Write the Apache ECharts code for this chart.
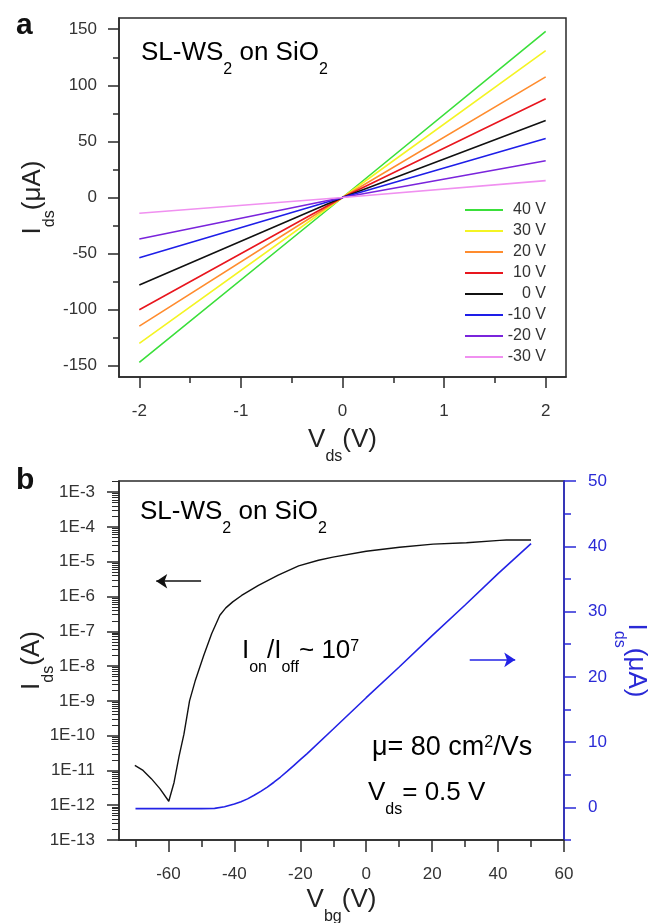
<!DOCTYPE html>
<html><head><meta charset="utf-8">
<script src="https://cdn.jsdelivr.net/npm/echarts@6.0.0/dist/echarts.min.js"></script>
<style>html,body{margin:0;padding:0;background:#fff}#c{width:652px;height:923px}</style>
</head><body><div id="c"></div>
<script>
const FONT = "'Liberation Sans', Arial, sans-serif";

// ---------- Panel a data ----------
const gateLabels = ['40 V', '30 V', '20 V', '10 V', '0 V', '-10 V', '-20 V', '-30 V'];
const gateColors = ['#3adf3a', '#f4f424', '#ff8c2e', '#e8161e', '#111111', '#1e1ee8', '#7a24dc', '#f090f0'];
const vdsPoints = [-2, 0, 2];
const idsAtNeg2 = [-147, -130, -114.6, -100, -78, -53.7, -37, -14];
const idsAtZero = [0, 0, 0, 0, 0, 0, 0, 0];
const idsAtPos2 = [148, 131, 107.5, 88, 68.7, 52.5, 32.8, 15];
const aXTicks = [-2, -1, 0, 1, 2];
const aXMinor = [-1.5, -0.5, 0.5, 1.5];
const aYTicks = [-150, -100, -50, 0, 50, 100, 150];
const aYMinor = [-125, -75, -25, 25, 75, 125];

// ---------- Panel b data ----------
const blackVbg = [-70.2, -67.7, -65.2, -62.6, -59.9, -58.3, -56.8, -55.3, -53.6, -51.8, -49.3, -46.9, -44.4, -42.6, -40.5, -37.8, -32.7, -26.7, -20.5, -14.5, -10.1, 0, 10.1, 20.3, 30.4, 40.5, 42.5, 50];
const blackIds = [1.4e-11, 1.0e-11, 5.8e-12, 3.0e-12, 1.3e-12, 4.5e-12, 2.5e-11, 1.1e-10, 1.0e-9, 4.0e-9, 2.0e-8, 8.5e-8, 2.9e-7, 4.7e-7, 7.0e-7, 1.07e-6, 2.1e-6, 4.1e-6, 7.6e-6, 1.1e-5, 1.35e-5, 2.0e-5, 2.6e-5, 3.2e-5, 3.5e-5, 4.1e-5, 4.2e-5, 4.2e-5];
const blueVbg = [-70, -60, -50, -46, -43, -40, -38, -36, -34, -32, -30, -28, -26, -24, -22, -20, -18, -10, 0, 10, 20, 30, 40, 50];
const blueIds = [-0.2, -0.2, -0.2, -0.15, 0.1, 0.5, 0.85, 1.3, 1.85, 2.45, 3.1, 3.85, 4.65, 5.5, 6.4, 7.3, 8.2, 12.0, 16.8, 21.5, 26.3, 31.0, 35.8, 40.4];
const bXTicks = [-60, -40, -20, 0, 20, 40, 60];
const bXMinor = [-70, -50, -30, -10, 10, 30, 50];
const bDecades = [-13, -12, -11, -10, -9, -8, -7, -6, -5, -4, -3];
const bRightTicks = [0, 10, 20, 30, 40, 50];
const bRightMinor = [-5, 5, 15, 25, 35, 45];
const blackArrowV = [-50.1, -63.7];
const blackArrowIds = 2.75e-6;
const blueArrowV = [31.4, 45.2];
const blueArrowIds = 22.6;

const BLACK = '#2a2a2a';
const BLUE = '#2a2ad6';
const RED = '#e8222a';

function rich(color, main, sub) {
  return {
    m: { fontSize: main, lineHeight: main + 4, verticalAlign: 'top', color: color, fontFamily: FONT },
    s: { fontSize: sub, lineHeight: sub, verticalAlign: 'top', padding: [Math.round(main * 0.85), 0, 0, 0], color: color, fontFamily: FONT },
    p: { fontSize: sub, lineHeight: sub, verticalAlign: 'top', padding: [1, 0, 0, 0], color: color, fontFamily: FONT }
  };
}

const logMinor = [];
for (let n = -13; n <= -3; n++) {
  for (let k = 2; k <= 9; k++) {
    const v = Math.log10(k) + n;
    if (v < -2.68) logMinor.push(v);
  }
}

function majorAxis(o) {
  return Object.assign({
    type: 'value', splitLine: { show: false }, nameMoveOverlap: false,
    axisLine: { show: true, onZero: false, lineStyle: { color: BLACK, width: 1.5 } },
    axisTick: { show: true, length: 11, lineStyle: { color: BLACK, width: 1.5 } },
    axisLabel: { fontSize: 17, color: '#333', fontFamily: FONT, margin: 22 }
  }, o);
}
function minorAxis(o) {
  return Object.assign({
    type: 'value', splitLine: { show: false }, offset: 0,
    axisLine: { show: false, onZero: false },
    axisLabel: { show: false },
    axisTick: { show: true, length: 6, lineStyle: { color: BLACK, width: 1.5 } }
  }, o);
}

const seriesA = gateLabels.map((g, i) => ({
  name: g, type: 'line', xAxisIndex: 0, yAxisIndex: 0, symbol: 'none',
  color: gateColors[i],
  lineStyle: { width: 1.6, color: gateColors[i] },
  data: vdsPoints.map((v, j) => [v, [idsAtNeg2[i], idsAtZero[i], idsAtPos2[i]][j]])
}));

const option = {
  animation: false,
  backgroundColor: '#fff',
  textStyle: { fontFamily: FONT },
  grid: [
    { left: 119, top: 18, width: 447, height: 359, show: true, borderColor: BLACK, borderWidth: 1.5, backgroundColor: 'transparent', containLabel: false, outerBoundsMode: 'none' },
    { left: 119, top: 481, width: 445, height: 359, show: true, borderColor: BLACK, borderWidth: 1.5, backgroundColor: 'transparent', containLabel: false, outerBoundsMode: 'none' }
  ],
  legend: {
    data: gateLabels, orient: 'vertical', left: 465, top: 202, padding: 0,
    icon: 'rect', itemWidth: 38, itemHeight: 2, itemGap: 5,
    formatter: n => '{t|' + n + '}',
    textStyle: { rich: { t: { width: 38, lineHeight: 14, align: 'right', fontSize: 16, color: '#333', fontFamily: FONT } } }
  },
  xAxis: [
    majorAxis({ gridIndex: 0, position: 'bottom', min: -2.2, max: 2.2,
      axisTick: { show: true, length: 11, customValues: aXTicks, lineStyle: { color: BLACK, width: 1.5 } },
      axisLabel: { fontSize: 17, color: '#333', fontFamily: FONT, margin: 26, customValues: aXTicks },
      name: '{m|V}{s|ds}{m|(V)}', nameLocation: 'middle', nameGap: 50,
      nameTextStyle: { rich: rich('#222', 26, 16) } }),
    minorAxis({ gridIndex: 0, position: 'bottom', min: -2.2, max: 2.2,
      axisTick: { show: true, length: 6, customValues: aXMinor, lineStyle: { color: BLACK, width: 1.5 } } }),
    majorAxis({ gridIndex: 1, position: 'bottom', min: -75, max: 60,
      axisTick: { show: true, length: 12, customValues: bXTicks, lineStyle: { color: BLACK, width: 1.5 } },
      axisLabel: { fontSize: 17, color: '#333', fontFamily: FONT, margin: 26, customValues: bXTicks },
      name: '{m|V}{s|bg}{m|(V)}', nameLocation: 'middle', nameGap: 47,
      nameTextStyle: { rich: rich('#222', 26, 16) } }),
    minorAxis({ gridIndex: 1, position: 'bottom', min: -75, max: 60,
      axisTick: { show: true, length: 7, customValues: bXMinor, lineStyle: { color: BLACK, width: 1.5 } } })
  ],
  yAxis: [
    majorAxis({ gridIndex: 0, position: 'left', min: -160, max: 160,
      axisTick: { show: true, length: 11, customValues: aYTicks, lineStyle: { color: BLACK, width: 1.5 } },
      axisLabel: { fontSize: 17, color: '#333', fontFamily: FONT, margin: 22, customValues: aYTicks },
      name: '{m|I}{s|ds}{m|(μA)}', nameLocation: 'middle', nameGap: 69, nameRotate: 90,
      nameTextStyle: { rich: rich('#222', 26, 16) } }),
    minorAxis({ gridIndex: 0, position: 'left', min: -160, max: 160,
      axisTick: { show: true, length: 6, customValues: aYMinor, lineStyle: { color: BLACK, width: 1.5 } } }),
    majorAxis({ gridIndex: 1, position: 'left', min: -13, max: -2.68,
      axisTick: { show: true, length: 12, customValues: bDecades, lineStyle: { color: BLACK, width: 1.5 } },
      axisLabel: { fontSize: 17, color: '#333', fontFamily: FONT, margin: 24, customValues: bDecades,
        formatter: v => '1E' + Math.round(v) },
      name: '{m|I}{s|ds}{m|(A)}', nameLocation: 'middle', nameGap: 70, nameRotate: 90,
      nameTextStyle: { rich: rich('#222', 26, 16) } }),
    minorAxis({ gridIndex: 1, position: 'left', min: -13, max: -2.68,
      axisTick: { show: true, length: 7, customValues: logMinor, lineStyle: { color: BLACK, width: 1 } } }),
    majorAxis({ gridIndex: 1, position: 'right', min: -5, max: 50,
      axisLine: { show: true, onZero: false, lineStyle: { color: BLUE, width: 1.5 } },
      axisTick: { show: true, length: 12, customValues: bRightTicks, lineStyle: { color: BLUE, width: 1.5 } },
      axisLabel: { fontSize: 17, color: BLUE, fontFamily: FONT, margin: 24, customValues: bRightTicks },
      name: '{m|I}{s|ds}{m|(μA)}', nameLocation: 'middle', nameGap: 55, nameRotate: -90,
      nameTextStyle: { rich: rich(BLUE, 26, 16) } }),
    minorAxis({ gridIndex: 1, position: 'right', min: -5, max: 50,
      axisTick: { show: true, length: 7, customValues: bRightMinor, lineStyle: { color: BLUE, width: 1.5 } } })
  ],
  series: seriesA.concat([
    {
      name: 'Ids log', type: 'line', xAxisIndex: 2, yAxisIndex: 2, symbol: 'none',
      lineStyle: { width: 1.4, color: '#111' }, color: '#111',
      data: blackVbg.map((v, i) => [v, Math.log10(blackIds[i])]),
      markLine: { silent: true, symbol: ['none', 'arrow'], symbolSize: 11, label: { show: false },
        lineStyle: { color: '#111', width: 1.6, type: 'solid' },
        data: [[{ coord: [blackArrowV[0], Math.log10(blackArrowIds)] }, { coord: [blackArrowV[1], Math.log10(blackArrowIds)] }]] }
    },
    {
      name: 'Ids lin', type: 'line', xAxisIndex: 2, yAxisIndex: 4, symbol: 'none',
      lineStyle: { width: 1.6, color: '#2323e6' }, color: '#2323e6',
      data: blueVbg.map((v, i) => [v, blueIds[i]]),
      markLine: { silent: true, symbol: ['none', 'arrow'], symbolSize: 11, label: { show: false },
        lineStyle: { color: '#2323e6', width: 1.6, type: 'solid' },
        data: [[{ coord: [blueArrowV[0], blueArrowIds] }, { coord: [blueArrowV[1], blueArrowIds] }]] }
    }
  ]),
  graphic: [
    { type: 'text', x: 16, y: 11, style: { text: 'a', font: 'bold 30px ' + FONT, fill: '#111' } },
    { type: 'text', x: 16, y: 466, style: { text: 'b', font: 'bold 30px ' + FONT, fill: '#111' } },
    { type: 'text', x: 141, y: 40, style: { text: '{m|SL-WS}{s|2}{m| on SiO}{s|2}', rich: rich('#222', 26, 16) } },
    { type: 'text', x: 140, y: 499, style: { text: '{m|SL-WS}{s|2}{m| on SiO}{s|2}', rich: rich('#222', 26, 16) } },
    { type: 'text', x: 242, y: 638, style: { text: '{m|I}{s|on}{m|/I}{s|off}{m|~ 10}{p|7}', rich: rich(RED, 26, 16) } },
    { type: 'text', x: 372, y: 734, style: { text: '{m|μ= 80 cm}{p|2}{m|/Vs}', rich: rich('#222', 27, 16) } },
    { type: 'text', x: 368, y: 780, style: { text: '{m|V}{s|ds}{m|= 0.5 V}', rich: rich('#222', 26, 16) } }
  ]
};

const chart = echarts.init(document.getElementById('c'), null, { renderer: 'canvas' });
chart.setOption(option);
</script>
</body></html>
